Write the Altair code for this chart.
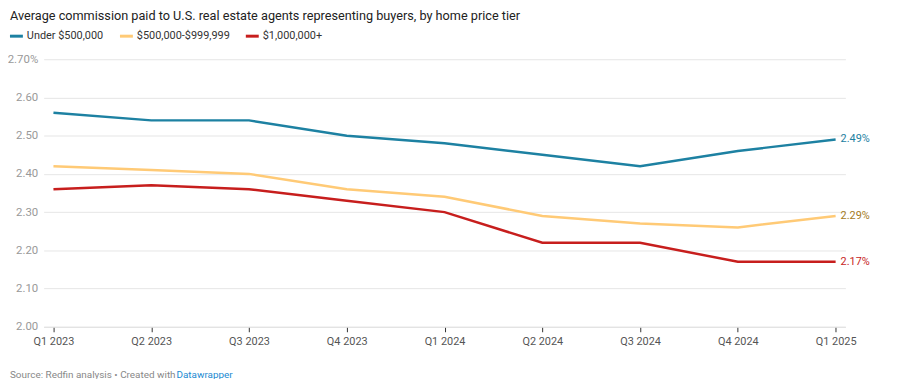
import altair as alt
import pandas as pd

quarters = ["Q1 2023", "Q2 2023", "Q3 2023", "Q4 2023", "Q1 2024",
            "Q2 2024", "Q3 2024", "Q4 2024", "Q1 2025"]
series_names = ["Under $500,000", "$500,000-$999,999", "$1,000,000+"]
under_500k = [2.56, 2.54, 2.54, 2.50, 2.48, 2.45, 2.42, 2.46, 2.49]
mid_tier = [2.42, 2.41, 2.40, 2.36, 2.34, 2.29, 2.27, 2.26, 2.29]
over_1m = [2.36, 2.37, 2.36, 2.33, 2.30, 2.22, 2.22, 2.17, 2.17]
line_colors = ["#1d81a2", "#ffca76", "#c71e1d"]
label_colors = ["#1d81a2", "#a47a24", "#c71e1d"]
y_ticks = [2.0, 2.1, 2.2, 2.3, 2.4, 2.5, 2.6, 2.7]

rows = []
for name, vals in zip(series_names, [under_500k, mid_tier, over_1m]):
    for q, v in zip(quarters, vals):
        rows.append({"quarter": q, "series": name, "value": v})
df = pd.DataFrame(rows)
last = df[df["quarter"] == quarters[-1]].copy()
last["label"] = last["value"].map(lambda v: f"{v:.2f}%")

W, H = 809, 270
FONT = "Roboto"

x_enc = alt.X("quarter:N", sort=quarters,
              scale=alt.Scale(type="point", padding=0.1),
              axis=alt.Axis(title=None, labelAngle=0, labelColor="#555555",
                            labelFontSize=11, labelFont=FONT, tickColor="#333333",
                            tickSize=5, domainColor="#e0e0e0", labelPadding=4,
                            grid=False))
y_enc = alt.Y("value:Q", scale=alt.Scale(domain=[2.0, 2.7], nice=False, zero=False),
              axis=alt.Axis(title=None, values=y_ticks, domain=False, ticks=False,
                            gridColor="#e6e6e6", labelColor="#999999",
                            labelFontSize=11.5, labelFont=FONT, labelPadding=6,
                            labelOverlap=False, labelBound=False,
                            labelExpr="datum.value >= 2.699 ? format(datum.value, '.2f') + '%' : format(datum.value, '.2f')"))

color_scale = alt.Scale(domain=series_names, range=line_colors)

lines = alt.Chart(df).mark_line(strokeWidth=2.5).encode(
    x=x_enc, y=y_enc,
    color=alt.Color("series:N", scale=color_scale, sort=series_names,
                    legend=alt.Legend(title=None, orient="none", legendX=-36, legendY=-32,
                                      direction="horizontal", symbolType="stroke",
                                      symbolStrokeWidth=3, symbolSize=170,
                                      labelFontSize=11, labelFont=FONT,
                                      labelColor="#333333", columnPadding=9,
                                      symbolOffset=0, labelOffset=2))
)

labels = alt.Chart(last).mark_text(align="left", dx=5, fontSize=11, font=FONT).encode(
    x=x_enc,
    y=y_enc,
    text="label:N",
    color=alt.Color("series:N", scale=alt.Scale(domain=series_names, range=label_colors),
                    legend=None),
)

footer_df = pd.DataFrame({"t": ["Source: Redfin analysis \u2022 Created with "]})
footer1 = alt.Chart(footer_df).mark_text(align="left", baseline="middle", fontSize=10,
                                         font=FONT, color="#888888").encode(
    x=alt.value(-34), y=alt.value(H + 49), text="t:N")
footer2_df = pd.DataFrame({"t": ["Datawrapper"]})
footer2 = alt.Chart(footer2_df).mark_text(align="left", baseline="middle", fontSize=10,
                                          font=FONT, color="#1a8ad1").encode(
    x=alt.value(134), y=alt.value(H + 49), text="t:N")

chart = alt.layer(lines, labels, footer1, footer2).resolve_scale(color="independent").properties(
    width=W, height=H,
    title=alt.TitleParams("Average commission paid to U.S. real estate agents representing buyers, by home price tier",
                          anchor="start", frame="group", dx=-34, offset=5, fontSize=12.8,
                          font=FONT, fontWeight="normal", color="#222222"),
    autosize=alt.AutoSizeParams(type="none"),
    padding={"left": 36, "top": 50, "right": 44, "bottom": 51},
    background="white",
).configure_view(stroke=None)

chart.save("out.html", embed_options={"renderer": "svg", "actions": False})
